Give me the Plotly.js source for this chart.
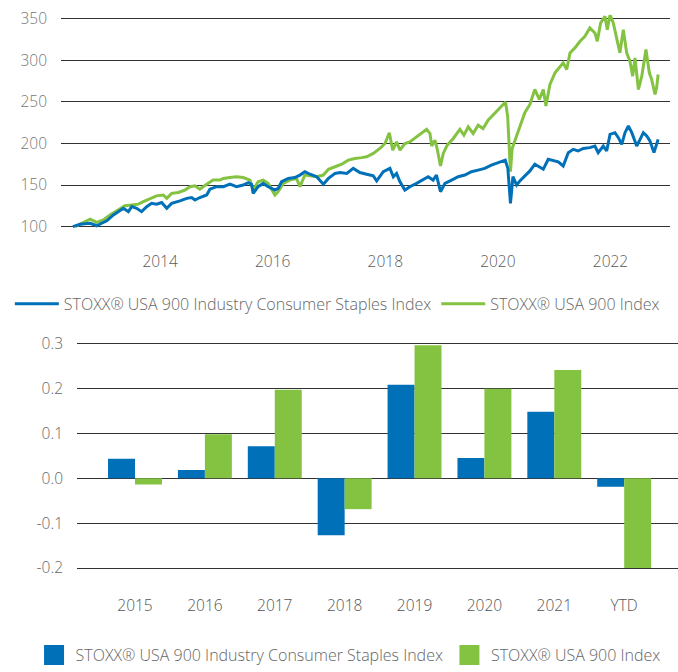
<!DOCTYPE html>
<html><head><meta charset="utf-8">
<script src="https://cdn.plot.ly/plotly-3.0.1.min.js"></script>
<style>html,body{margin:0;padding:0;background:#fff}</style>
</head><body><div id="chart" style="width:678px;height:672px"></div>
<script>
const blueName = 'STOXX® USA 900 Industry Consumer Staples Index';
const greenName = 'STOXX® USA 900 Index';

const blueDates = ['2012-06-14','2012-07-31','2012-10-04','2012-11-16','2012-12-18','2013-01-20','2013-03-04','2013-05-08','2013-06-09','2013-07-01','2013-08-02','2013-09-03','2013-10-06','2013-11-07','2013-12-09','2014-01-11','2014-02-13','2014-03-17','2014-05-10','2014-06-23','2014-07-25','2014-08-15','2014-09-16','2014-10-30','2014-11-20','2015-01-03','2015-02-15','2015-03-30','2015-05-12','2015-06-24','2015-07-27','2015-08-17','2015-08-28','2015-09-29','2015-11-01','2015-12-03','2016-01-16','2016-02-06','2016-02-28','2016-04-11','2016-05-24','2016-06-26','2016-07-28','2016-08-30','2016-10-13','2016-11-25','2016-12-28','2017-02-09','2017-03-13','2017-04-26','2017-06-07','2017-07-20','2017-09-02','2017-10-15','2017-11-06','2017-12-19','2018-01-31','2018-02-22','2018-03-15','2018-04-06','2018-05-08','2018-06-09','2018-07-23','2018-09-04','2018-10-06','2018-11-07','2018-11-29','2018-12-25','2019-01-23','2019-03-07','2019-04-19','2019-06-01','2019-07-14','2019-08-26','2019-10-08','2019-11-20','2020-01-04','2020-02-18','2020-03-06','2020-03-23','2020-04-08','2020-05-02','2020-05-23','2020-06-24','2020-07-27','2020-08-28','2020-09-30','2020-10-22','2020-11-23','2020-12-26','2021-01-27','2021-02-28','2021-04-02','2021-05-04','2021-06-05','2021-07-08','2021-08-20','2021-09-22','2021-10-13','2021-11-15','2021-12-07','2021-12-29','2022-01-30','2022-02-21','2022-03-15','2022-04-05','2022-04-27','2022-05-19','2022-06-20','2022-07-12','2022-08-02','2022-08-24','2022-09-14','2022-10-10','2022-10-27','2022-11-06'];
const blueLevels = [100,102.8,104,101,104,107,114,122,118,124,122,118,124,128,127,129,122,128,131,134,135,132,135,138,145,148,148,151,148,150,153,151,140,148,152,148,144,146,154,158,159,162,166,163,160,151,158,164,165,164,170,165,163,161,155,166,170,160,164,154,144,148,152,156,160,156,162,142,152,156,160,162,166,168,170,174,177,180,170,128,160,150,155,161,167,175,171,169,181,179,178,173,189,193,191,194,195,197,189,197,191,211,213,207,199,213,221,213,197,205,213,209,203,189,199,205];

const greenDates = ['2012-06-29','2012-08-21','2012-10-04','2012-11-16','2012-12-29','2013-02-10','2013-04-05','2013-05-18','2013-07-01','2013-08-13','2013-09-14','2013-10-27','2013-12-09','2014-01-22','2014-02-13','2014-03-17','2014-04-29','2014-06-11','2014-07-14','2014-08-15','2014-09-16','2014-10-30','2014-12-11','2015-01-24','2015-02-15','2015-03-30','2015-05-12','2015-06-24','2015-08-07','2015-08-28','2015-09-29','2015-11-01','2015-12-03','2016-01-16','2016-02-06','2016-03-10','2016-04-22','2016-06-04','2016-06-26','2016-07-28','2016-08-30','2016-10-13','2016-11-25','2016-12-28','2017-02-09','2017-03-24','2017-05-06','2017-06-18','2017-07-31','2017-09-02','2017-10-15','2017-11-27','2017-12-30','2018-01-27','2018-02-18','2018-03-15','2018-04-06','2018-05-08','2018-06-09','2018-07-23','2018-08-24','2018-09-26','2018-10-18','2018-10-29','2018-11-19','2018-12-03','2018-12-25','2019-01-12','2019-02-07','2019-03-18','2019-04-30','2019-05-26','2019-06-23','2019-07-25','2019-08-26','2019-09-27','2019-10-30','2019-12-01','2020-01-04','2020-02-05','2020-02-20','2020-03-05','2020-03-14','2020-03-23','2020-04-03','2020-04-25','2020-05-23','2020-06-24','2020-07-27','2020-08-28','2020-09-26','2020-10-22','2020-11-08','2020-12-04','2021-01-06','2021-02-08','2021-02-28','2021-03-23','2021-04-13','2021-05-15','2021-06-17','2021-07-19','2021-08-20','2021-09-22','2021-10-07','2021-10-29','2021-11-26','2021-12-11','2021-12-29','2022-01-19','2022-02-10','2022-03-03','2022-03-25','2022-04-16','2022-05-07','2022-05-25','2022-06-09','2022-07-01','2022-07-23','2022-08-19','2022-09-10','2022-09-25','2022-10-17','2022-10-27','2022-11-06'];
const greenLevels = [100,105,109,105,108,114,120,125,126,127,130,134,137,138,134,140,141,144,148,149,145,151,156,156,158,159,160,159,156,144,154,156,152,138,142,152,156,158,148,162,161,160,162,169,172,175,180,182,183,184,188,194,200,213,192,202,192,200,202,208,212,217,212,197,204,194,173,188,198,206,217,210,220,212,222,218,228,234,240,246,250,232,198,166,194,206,222,237,247,265,253,265,245,271,285,293,297,289,309,315,323,329,339,333,323,345,353,337,355,345,325,309,337,309,299,281,303,265,281,313,285,277,259,267,283];

const categories = ['2015','2016','2017','2018','2019','2020','2021','YTD'];
const blueReturns = [0.043, 0.018, 0.071, -0.127, 0.208, 0.045, 0.148, -0.019];
const greenReturns = [-0.014, 0.098, 0.197, -0.069, 0.296, 0.199, 0.241, -0.200];

const lineYearTicks = ['2014-01-01','2016-01-01','2018-01-01','2020-01-01','2022-01-01'];
const lineYearLabels = ['2014','2016','2018','2020','2022'];
const levelTicks = [100,150,200,250,300,350];
const returnTicks = [-0.2,-0.1,0,0.1,0.2,0.3];
const returnLabels = ['-0.2','-0.1','0.0','0.1','0.2','0.3'];

const BLUE = '#0071b9';
const GREEN = '#84c341';
const GRID = '#333333';
const TXT = '#666666';
const W = 678, H = 672;
const FONT = '"Open Sans", "Noto Sans", sans-serif';

const traces = [
  {type:'scatter', mode:'lines', x: greenDates, y: greenLevels, name: greenName,
   line:{color:GREEN, width:3}, xaxis:'x', yaxis:'y', legend:'legend', legendrank:2},
  {type:'scatter', mode:'lines', x: blueDates, y: blueLevels, name: blueName,
   line:{color:BLUE, width:3}, xaxis:'x', yaxis:'y', legend:'legend', legendrank:1},
  {type:'bar', x: categories, y: blueReturns, name: blueName, marker:{color:BLUE},
   xaxis:'x2', yaxis:'y2', showlegend:false},
  {type:'bar', x: categories, y: greenReturns, name: greenName, marker:{color:GREEN},
   xaxis:'x2', yaxis:'y2', showlegend:false},
  // legend keys for the bar chart (large square swatches, no marks drawn)
  {type:'scatter', mode:'markers', x:[null], y:[null], name: blueName, xaxis:'x2', yaxis:'y2',
   marker:{symbol:'square', size:16, color:BLUE, line:{width:4, color:BLUE}},
   legend:'legend2', legendrank:1},
  {type:'scatter', mode:'markers', x:[null], y:[null], name: greenName, xaxis:'x2', yaxis:'y2',
   marker:{symbol:'square', size:16, color:GREEN, line:{width:4, color:GREEN}},
   legend:'legend2', legendrank:2}
];

const layout = {
  width: W, height: H,
  margin:{l:0, r:0, t:0, b:0},
  paper_bgcolor:'#ffffff', plot_bgcolor:'#ffffff',
  font:{family: FONT, size:15, color: TXT, weight:300},
  showlegend:true,
  barmode:'group', bargap:0.228, bargroupgap:0,
  xaxis:{type:'date', domain:[61/W, 670/W], range:['2012-03-29','2023-01-22'],
    tickmode:'array', tickvals: lineYearTicks, ticktext: lineYearLabels,
    showgrid:false, zeroline:false, showline:false, ticks:'', anchor:'y',
    tickfont:{family:FONT, size:15.5, color:'#5a5a5a'}, fixedrange:true},
  yaxis:{domain:[1-253/H, 1-15/H], range:[71.4, 354.8], tickmode:'array', tickvals: levelTicks,
    showgrid:true, gridcolor: GRID, gridwidth:1, zeroline:false, showline:false, ticks:'',
    ticklabelstandoff:13, anchor:'x', tickfont:{family:FONT, size:15.5, color:'#777'}},
  xaxis2:{type:'category', domain:[77/W, 1], range:[-0.83, 7.77], anchor:'y2',
    showgrid:false, zeroline:false, showline:false, ticks:'', ticklabelstandoff:24,
    tickfont:{family:FONT, size:15.5, color:'#555'}},
  yaxis2:{domain:[1-577/H, 1-344/H], range:[-0.2066, 0.3066], tickmode:'array',
    tickvals: returnTicks, ticktext: returnLabels, showgrid:true, gridcolor: GRID, gridwidth:1,
    zeroline:false, showline:false, ticks:'', ticklabelstandoff:13, anchor:'x2',
    tickfont:{family:FONT, size:15.5, color:'#666'}},
  legend:{orientation:'h', x:0.0145, y:1-307/H, xanchor:'left', yanchor:'middle',
    font:{family:FONT, size:16, color:TXT}, itemwidth:44, bgcolor:'rgba(0,0,0,0)'},
  legend2:{orientation:'h', x:0.048, y:1-662/H, xanchor:'left', yanchor:'middle',
    font:{family:FONT, size:16, color:TXT}, itemwidth:33, bgcolor:'rgba(0,0,0,0)'}
};

Plotly.newPlot('chart', traces, layout, {displayModeBar:false, staticPlot:true});
</script>
</body></html>
